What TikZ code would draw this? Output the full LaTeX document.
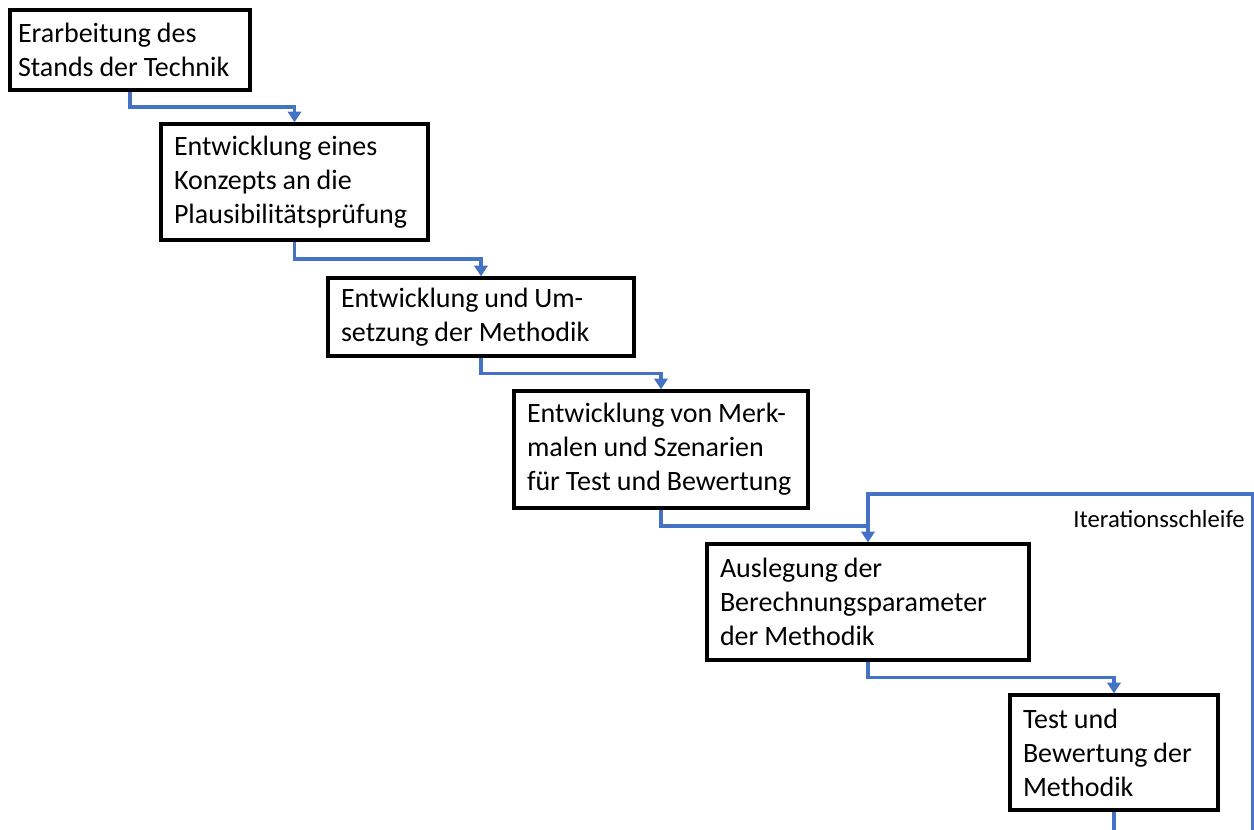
\documentclass[tikz,border=0pt]{standalone}
\usepackage{fontspec}
\setmainfont{Carlito}
\usetikzlibrary{arrows.meta,calc}
\definecolor{flowblue}{HTML}{4472C4}
\tikzset{
  x=0.75pt, y=-0.75pt,
  stepbox/.style={draw=black, line width=2.6pt, fill=white, align=left,
    inner xsep=0pt, inner ysep=0pt, font=\fontsize{21pt}{25.5pt}\selectfont,
    execute at begin node={\leftskip=9.75pt\rightskip=-60pt plus 1fil\hyphenpenalty=10000\spaceskip=0.21em}},
  flow/.style={draw=flowblue, line width=2.6pt,
    -{Triangle[width=10pt,length=8pt]}},
  loop/.style={draw=flowblue, line width=2.6pt},
  lbl/.style={font=\fontsize{18.5pt}{20pt}\selectfont, inner sep=0pt}
}
\begin{document}
\begin{tikzpicture}
\useasboundingbox (0,0) rectangle (1254,829);
\node[stepbox, minimum width=240*0.75pt, minimum height=80*0.75pt, text width=240*0.75pt,
  execute at begin node={\leftskip=6pt}] (b1) at (130,50)
  {Erarbeitung des\\Stands der Technik};
\node[stepbox, minimum width=267*0.75pt, minimum height=116*0.75pt, text width=267*0.75pt] (b2) at (294.5,182)
  {Entwicklung eines\\Konzepts an die\\Plausibilitätsprüfung};
\node[stepbox, minimum width=306*0.75pt, minimum height=78*0.75pt, text width=306*0.75pt] (b3) at (481,317)
  {Entwicklung und Um-\\setzung der Methodik};
\node[stepbox, minimum width=294*0.75pt, minimum height=117*0.75pt, text width=294*0.75pt] (b4) at (661,449.5)
  {Entwicklung von Merk-\\malen und Szenarien\\für Test und Bewertung};
\node[stepbox, minimum width=322*0.75pt, minimum height=116*0.75pt, text width=322*0.75pt] (b5) at (868,602)
  {Auslegung der\\Berechnungsparameter\\der Methodik};
\node[stepbox, minimum width=208*0.75pt, minimum height=115*0.75pt, text width=208*0.75pt] (b6) at (1114,752.5)
  {Test und\\Bewertung der\\Methodik};
\node[lbl, anchor=base east] (it) at (1245,527) {Iterationsschleife};
\coordinate (m12) at ($(b1.south)!.5!(b2.north)$);
\coordinate (m23) at ($(b2.south)!.5!(b3.north)$);
\coordinate (m34) at ($(b3.south)!.5!(b4.north)$);
\coordinate (m45) at ($(b4.south)!.5!(b5.north)$);
\coordinate (m56) at ($(b5.south)!.5!(b6.north)$);
\coordinate (end) at (1116,840);
\coordinate (lr) at (1253,494);
\coordinate (lb) at (1253,840);
\draw[flow] (b1.south) |- (m12) -| (b2.north);
\draw[flow] (b2.south) |- (m23) -| (b3.north);
\draw[flow] (b3.south) |- (m34) -| (b4.north);
\draw[flow] (b4.south) |- (m45) -| (b5.north);
\draw[flow] (b5.south) |- (m56) -| (b6.north);
\draw[loop] (m45 -| b5.north) |- (lr) -- (lb);
\draw[loop] (b6.south) -- (b6.south |- end);
\end{tikzpicture}
\end{document}
